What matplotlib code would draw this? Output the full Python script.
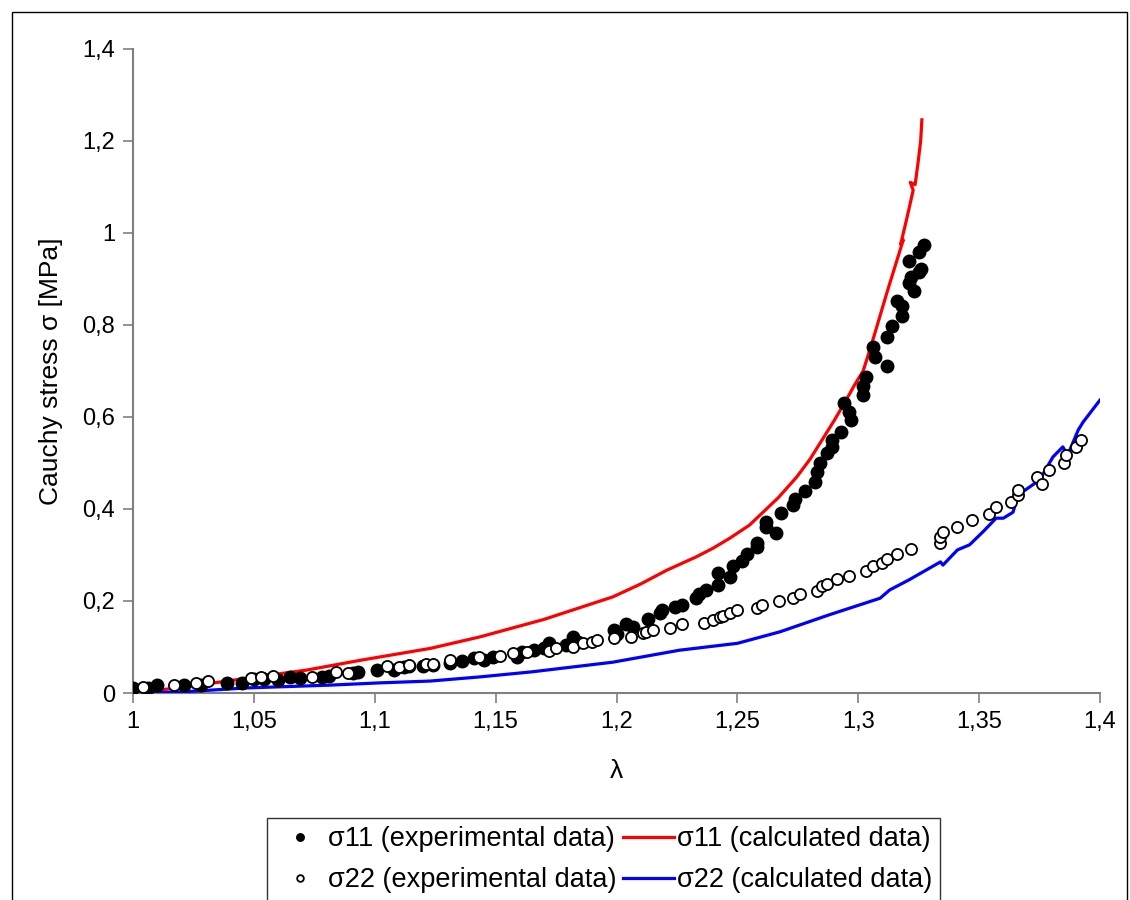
import numpy as np
import matplotlib
matplotlib.use('Agg')
import matplotlib.pyplot as plt
import matplotlib.patches as pc

plt.rcParams['font.family'] = ['Liberation Sans', 'DejaVu Sans']

# Data

# sigma11, experimental (filled dots)
lam_s11_exp = [1.000, 1.006, 1.010, 1.021, 1.028, 1.039, 1.045, 1.050, 1.054, 1.060,
               1.065, 1.069, 1.078, 1.081, 1.091, 1.093, 1.101, 1.108, 1.112, 1.114,
               1.120, 1.124, 1.131, 1.136, 1.141, 1.145, 1.149, 1.159, 1.161, 1.166,
               1.170, 1.172, 1.179, 1.182, 1.184, 1.199, 1.200, 1.204, 1.207, 1.213,
               1.218, 1.219, 1.224, 1.227, 1.233, 1.234, 1.237, 1.242, 1.242, 1.247,
               1.248, 1.252, 1.254, 1.258, 1.258, 1.262, 1.262, 1.266, 1.268, 1.273,
               1.274, 1.278, 1.282, 1.283, 1.284, 1.287, 1.289, 1.289, 1.293, 1.297,
               1.296, 1.294, 1.303, 1.302, 1.302, 1.312, 1.307, 1.306, 1.312, 1.314,
               1.318, 1.318, 1.316, 1.323, 1.321, 1.322, 1.325, 1.326, 1.321, 1.325,
               1.327]
s11_exp = [0.011, 0.011, 0.017, 0.017, 0.017, 0.022, 0.022, 0.030, 0.030, 0.028,
           0.035, 0.033, 0.035, 0.037, 0.043, 0.046, 0.050, 0.050, 0.057, 0.059,
           0.059, 0.061, 0.065, 0.070, 0.076, 0.072, 0.078, 0.078, 0.089, 0.093,
           0.098, 0.109, 0.104, 0.122, 0.111, 0.137, 0.128, 0.150, 0.143, 0.161,
           0.174, 0.180, 0.187, 0.191, 0.207, 0.215, 0.224, 0.235, 0.261, 0.252,
           0.276, 0.287, 0.302, 0.317, 0.326, 0.361, 0.372, 0.348, 0.391, 0.409,
           0.422, 0.440, 0.458, 0.480, 0.500, 0.522, 0.535, 0.550, 0.567, 0.593,
           0.611, 0.630, 0.687, 0.667, 0.648, 0.711, 0.730, 0.752, 0.774, 0.798,
           0.820, 0.841, 0.852, 0.874, 0.891, 0.904, 0.915, 0.922, 0.939, 0.959,
           0.974]

# sigma22, experimental (open circles)
lam_s22_exp = [1.004, 1.017, 1.026, 1.031, 1.049, 1.053, 1.058, 1.074, 1.084, 1.089,
               1.105, 1.110, 1.114, 1.121, 1.124, 1.131, 1.143, 1.152, 1.157, 1.163,
               1.172, 1.175, 1.182, 1.186, 1.190, 1.192, 1.199, 1.206, 1.211, 1.212,
               1.215, 1.222, 1.227, 1.236, 1.240, 1.243, 1.244, 1.247, 1.250, 1.258,
               1.260, 1.267, 1.273, 1.276, 1.283, 1.285, 1.287, 1.291, 1.296, 1.303,
               1.306, 1.310, 1.312, 1.316, 1.322, 1.334, 1.334, 1.335, 1.341, 1.347,
               1.354, 1.357, 1.363, 1.366, 1.366, 1.374, 1.376, 1.379, 1.385, 1.386,
               1.390, 1.392]
s22_exp = [0.013, 0.017, 0.022, 0.026, 0.033, 0.035, 0.037, 0.035, 0.046, 0.043,
           0.059, 0.057, 0.061, 0.063, 0.063, 0.072, 0.078, 0.080, 0.087, 0.089,
           0.091, 0.098, 0.100, 0.109, 0.111, 0.115, 0.120, 0.122, 0.130, 0.133,
           0.137, 0.141, 0.150, 0.152, 0.159, 0.165, 0.167, 0.174, 0.180, 0.185,
           0.191, 0.200, 0.207, 0.215, 0.222, 0.233, 0.237, 0.248, 0.254, 0.265,
           0.276, 0.283, 0.291, 0.302, 0.313, 0.326, 0.339, 0.350, 0.361, 0.375,
           0.389, 0.404, 0.415, 0.430, 0.441, 0.470, 0.454, 0.485, 0.500, 0.517,
           0.535, 0.550]

# sigma11, calculated (red line)
lam_s11_calc = [1.000, 1.020, 1.047, 1.072, 1.095, 1.123, 1.1435, 1.170, 1.1985, 1.210,
                1.2208, 1.233, 1.240, 1.247, 1.255, 1.260, 1.267, 1.2746, 1.280, 1.285,
                1.290, 1.295, 1.2985, 1.302, 1.304, 1.306, 1.312, 1.3186, 1.3175, 1.320,
                1.3227, 1.3215, 1.3235, 1.3247, 1.3258, 1.3263]
s11_calc = [0.000, 0.012, 0.032, 0.050, 0.072, 0.097, 0.122, 0.160, 0.209, 0.237,
            0.267, 0.296, 0.315, 0.337, 0.365, 0.390, 0.425, 0.470, 0.508, 0.550,
            0.592, 0.637, 0.670, 0.700, 0.733, 0.767, 0.873, 0.985, 0.975, 1.030,
            1.093, 1.110, 1.105, 1.152, 1.200, 1.246]

# sigma22, calculated (blue line)
lam_s22_calc = [1.000, 1.019, 1.047, 1.081, 1.102, 1.123, 1.1435, 1.165, 1.1985, 1.226,
                1.250, 1.2676, 1.288, 1.309, 1.313, 1.321, 1.334, 1.335, 1.341, 1.346,
                1.3515, 1.357, 1.360, 1.364, 1.366, 1.375, 1.3805, 1.3846, 1.3866, 1.391,
                1.393, 1.400, 1.404]
s22_calc = [0.000, 0.002, 0.011, 0.017, 0.022, 0.026, 0.035, 0.046, 0.067, 0.093,
            0.108, 0.133, 0.170, 0.206, 0.224, 0.246, 0.285, 0.278, 0.311, 0.322,
            0.350, 0.380, 0.380, 0.393, 0.430, 0.463, 0.513, 0.535, 0.517, 0.572,
            0.589, 0.637, 0.660]

x_ticks = [1.0, 1.05, 1.1, 1.15, 1.2, 1.25, 1.3, 1.35, 1.4]
x_tick_labels = ['1', '1,05', '1,1', '1,15', '1,2', '1,25', '1,3', '1,35', '1,4']
y_ticks = [0.0, 0.2, 0.4, 0.6, 0.8, 1.0, 1.2, 1.4]
y_tick_labels = ['0', '0,2', '0,4', '0,6', '0,8', '1', '1,2', '1,4']

# --------------------------------------------------------------------------------------------------

fig = plt.figure(figsize = (11.3, 9.0), dpi = 100)
ax = fig.add_axes([0.1177, 0.23, 0.8558, 0.7156])

ax.plot(lam_s11_exp, s11_exp, 'o', color = 'black', markersize = 9, zorder = 4,
        label = 'σ11 (experimental data)')
ax.plot(lam_s22_exp, s22_exp, 'o', markerfacecolor = 'white', markeredgecolor = 'black',
        markeredgewidth = 1.3, markersize = 8, zorder = 4, label = 'σ22 (experimental data)')
ax.plot(lam_s11_calc, s11_calc, '-', color = '#ff0000', linewidth = 2.3, zorder = 3,
        label = 'σ11 (calculated data)')
ax.plot(lam_s22_calc, s22_calc, '-', color = '#0000ff', linewidth = 2.3, zorder = 3,
        label = 'σ22 (calculated data)')

ax.set_xlim(1.0, 1.4)
ax.set_ylim(0.0, 1.4)
ax.set_xticks(x_ticks)
ax.set_xticklabels(x_tick_labels)
ax.set_yticks(y_ticks)
ax.set_yticklabels(y_tick_labels)

for s in ['top', 'right']:
    ax.spines[s].set_visible(False)
for s in ['left', 'bottom']:
    ax.spines[s].set_color('#808080')
    ax.spines[s].set_linewidth(1.5)

ax.tick_params(axis = 'both', direction = 'out', length = 7, width = 1.2, color = '#808080',
               labelsize = 17, pad = 6)

ax.set_xlabel('λ', fontsize = 19, labelpad = 19)
ax.set_ylabel('Cauchy stress σ [MPa]', fontsize = 19, labelpad = 14)

# Legend below the plot

h, l = ax.get_legend_handles_labels()
leg = fig.legend(h, l, ncol = 2,
                 loc = 'upper center', bbox_to_anchor = (0.534, 0.091), fontsize = 19.5,
                 frameon = True, fancybox = False, edgecolor = 'black', markerscale = 0.6,
                 handlelength = 1.85, handletextpad = 0.12, columnspacing = 0.25,
                 labelspacing = 0.55, borderpad = 0.3, borderaxespad = 0.0)
leg.get_frame().set_linewidth(1.0)

# Outer border of the chart

fig.patches.append(pc.Rectangle((0.0106, -0.01), 0.9867, 0.9967, transform = fig.transFigure,
                                fill = False, edgecolor = 'black', linewidth = 1.0))

fig.savefig('out.png', dpi = 100)
